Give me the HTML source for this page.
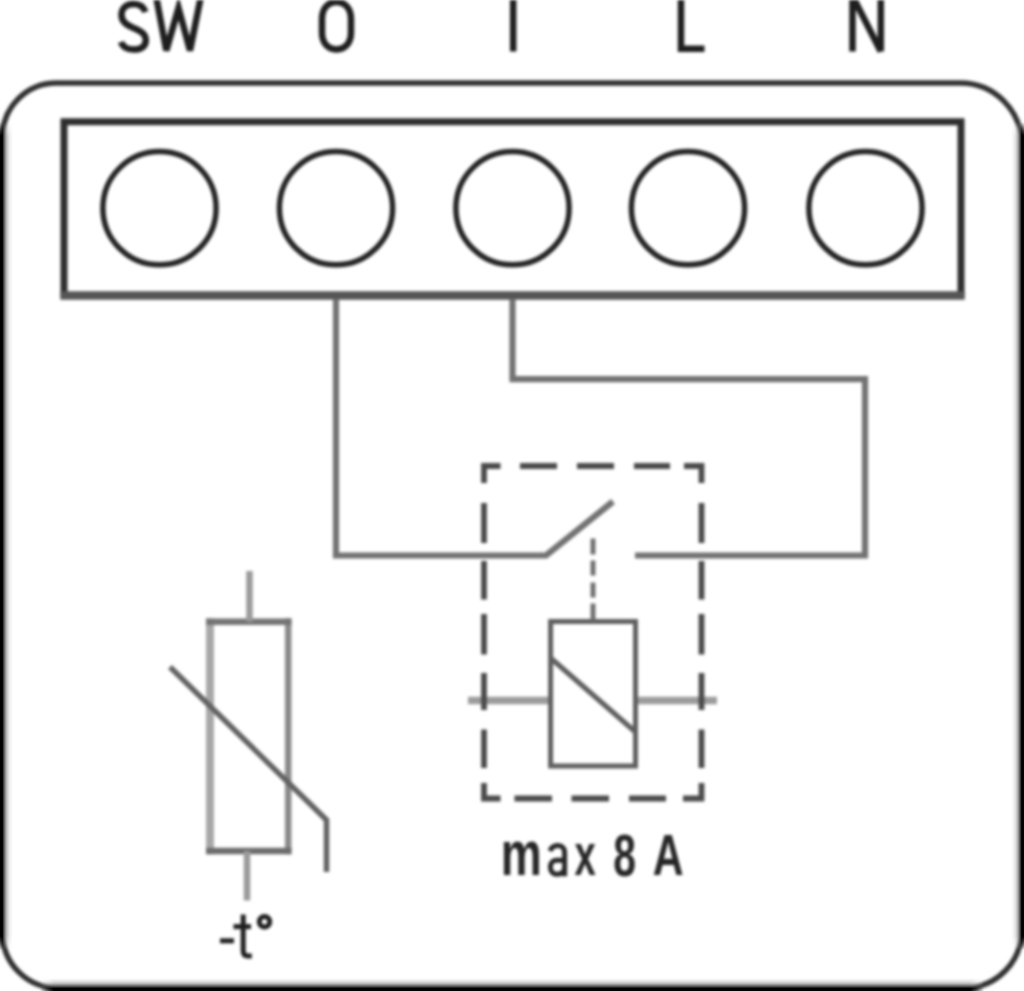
<!DOCTYPE html>
<html>
<head>
<meta charset="utf-8">
<style>
html,body{margin:0;padding:0;background:#fff;width:1024px;height:991px;overflow:hidden;}
#wrap{position:absolute;left:0;top:0;width:1024px;height:991px;filter:blur(1.5px);background:#fff;}
svg{display:block;position:absolute;left:0;top:0;}
.edge{position:absolute;}
</style>
</head>
<body>
<div id="wrap">
<svg width="1024" height="991" viewBox="0 0 1024 991">
<rect x="0" y="0" width="1024" height="991" fill="#fff"/>
<g fill="none" stroke-linecap="butt" stroke-linejoin="miter">
  <!-- outer rounded box -->
  <path d="M56.5,83 L960.5,83 A61,61 0 0 1 1021.5,144 L1021.5,931 A57,57 0 0 1 964.5,988 L57.5,988 A55,55 0 0 1 2.5,933 L2.5,137 A54,54 0 0 1 56.5,83 Z" stroke="#303030" stroke-width="5.5"/>
  <!-- terminal block -->
  <path d="M64,295.5 L64,121.7 L961,121.7 L961,295.5" stroke="#2e2e2e" stroke-width="7"/>
  <line x1="60.25" y1="295.5" x2="964.75" y2="295.5" stroke="#555" stroke-width="8.5"/>
  <g stroke="#242424" stroke-width="5.5">
    <circle cx="159.5" cy="208.2" r="56.6"/>
    <circle cx="336" cy="208.2" r="56.6"/>
    <circle cx="512.5" cy="208.2" r="56.6"/>
    <circle cx="688" cy="208.2" r="56.6"/>
    <circle cx="865.5" cy="208.2" r="56.6"/>
  </g>
  <!-- wires -->
  <g stroke="#727272" stroke-width="6.2">
    <polyline points="336,299 336,555.5 546,555.5 613,501.5"/>
    <polyline points="512.5,299 512.5,379.2 865,379.2 865,555.5 635,555.5"/>
  </g>

  <g stroke="#9c9c9c" stroke-width="7.5">
    <line x1="468" y1="700.5" x2="551" y2="700.5"/>
    <line x1="635.5" y1="700.5" x2="717" y2="700.5"/>
  </g>
  <!-- dashed box -->
  <g stroke="#4a4a4a" stroke-width="5.8">
    <polyline points="500.5,466 484,466 484,483"/>
    <line x1="520" y1="466" x2="557" y2="466"/>
    <line x1="577" y1="466" x2="614" y2="466"/>
    <line x1="634" y1="466" x2="670" y2="466"/>
    <polyline points="684,466 701.5,466 701.5,483"/>
    <polyline points="484,783 484,798.5 500.5,798.5"/>
    <line x1="514.5" y1="798.5" x2="552" y2="798.5"/>
    <line x1="571.5" y1="798.5" x2="609" y2="798.5"/>
    <line x1="629" y1="798.5" x2="666" y2="798.5"/>
    <polyline points="683,798.5 701.5,798.5 701.5,783"/>
    <line x1="484" y1="503" x2="484" y2="543"/>
    <line x1="484" y1="561" x2="484" y2="599.5"/>
    <line x1="484" y1="614" x2="484" y2="654.5"/>
    <line x1="484" y1="673" x2="484" y2="710"/>
    <line x1="484" y1="729.5" x2="484" y2="768"/>
    <line x1="701.5" y1="503" x2="701.5" y2="543"/>
    <line x1="701.5" y1="561" x2="701.5" y2="599.5"/>
    <line x1="701.5" y1="614" x2="701.5" y2="654.5"/>
    <line x1="701.5" y1="673" x2="701.5" y2="710"/>
    <line x1="701.5" y1="729.5" x2="701.5" y2="768"/>
  </g>
  <!-- relay coil -->
  <g stroke="#5e5e5e" stroke-width="5">
    <rect x="550.6" y="621.5" width="84.9" height="144.5"/>
    <line x1="550.6" y1="658" x2="635.5" y2="732"/>
  </g>
  <g stroke="#6c6c6c" stroke-width="4.8">
    <line x1="593" y1="538.5" x2="593" y2="554.5"/>
    <line x1="593" y1="560.5" x2="593" y2="575.5"/>
    <line x1="593" y1="582.5" x2="593" y2="597.5"/>
    <line x1="593" y1="603.5" x2="593" y2="621"/>
  </g>
  <!-- thermistor -->
  <g stroke-width="6.5">
    <line x1="288.2" y1="618.25" x2="288.2" y2="854.25" stroke="#8a8a8a"/>
    <line x1="210" y1="618.25" x2="210" y2="854.25" stroke="#a8a8a8" stroke-width="8"/>
    <line x1="206" y1="621.8" x2="291.45" y2="621.8" stroke="#747474"/>
    <line x1="206" y1="851" x2="291.45" y2="851" stroke="#6c6c6c"/>
    <line x1="249.5" y1="571" x2="249.5" y2="621.5" stroke="#9a9a9a"/>
    <line x1="247" y1="851" x2="247" y2="900.5" stroke="#9a9a9a"/>
  </g>
  <polyline points="170,667 326.5,820 326.5,872" stroke="#626262" stroke-width="5.5"/>

  <!-- top labels -->
  <g stroke="#1e1e1e" stroke-width="6.5" stroke-linecap="butt" stroke-linejoin="miter">
    <path d="M145.5,12 C143.5,6.5 139.5,4 133.5,4 C126,4 121.5,8.5 121.5,15 C121.5,22 127,25 133.5,28 C141,31 145.8,34 145.8,40.5 C145.8,46.5 141,49.5 133.5,49.5 C126.5,49.5 122.5,46.5 121,42"/>
    <polyline points="156,-4 166.3,50.5 178.5,8 190,50.5 201,-4"/>
    <path d="M336.5,2 C345.5,2 351,9 351,19 L351,32.5 C351,42.5 345.5,49.4 336.5,49.4 C327.5,49.4 322,42.5 322,32.5 L322,19 C322,9 327.5,2 336.5,2 Z"/>
    <line x1="513.2" y1="-4" x2="513.2" y2="51.5"/>
    <polyline points="681,-4 681,48.7 704.5,48.7"/>
    <path d="M852.5,51.5 L852.5,-4 M852.5,-4 L880.8,51.5 M880.8,51.5 L880.8,-4"/>
  </g>
</g>

  <!-- max 8 A -->
  <g fill="#262626" stroke="#262626" stroke-width="0" font-family="Liberation Sans" font-weight="bold" font-size="100">
    <text transform="translate(500.63,875.14) scale(0.4613,0.6255)">m</text>
    <text transform="translate(574.42,875.17) scale(0.3826,0.5987)">x</text>
    <text transform="translate(613.30,875.50) scale(0.4090,0.5955)">8</text>
    <text transform="translate(652.87,875.11) scale(0.4274,0.5673)">A</text>
  </g>

  <path d="M550,851 C551.5,847.2 554.5,845.6 557.8,845.6 C562.2,845.6 564.6,848.2 564.6,852.5 L564.6,876.3 M564.6,860.3 L556.5,860.3 C552.5,860.3 550.4,863.4 550.4,867.2 C550.4,871.6 553.2,874.3 557.2,874.3 C561,874.3 563.8,872.2 564.6,868.5" fill="none" stroke="#262626" stroke-width="5"/>
  <!-- -t° -->
  <g stroke="#1e1e1e" stroke-width="5" fill="none">
    <line x1="220" y1="940.8" x2="234" y2="940.8"/>
    <path d="M243.2,914.5 L243.2,951 C243.2,955 245.5,956 248,956 L251.8,956"/>
    <line x1="233.5" y1="926.6" x2="251" y2="926.6"/>
    <circle cx="264.5" cy="921.7" r="5.2" stroke-width="5"/>
  </g>
</svg>
</div>
<div class="edge" style="left:0;top:122px;width:14px;height:828px;-webkit-mask-image:linear-gradient(180deg,transparent 0,#000 14px,#000 814px,transparent 828px);mask-image:linear-gradient(180deg,transparent 0,#000 14px,#000 814px,transparent 828px);background:linear-gradient(90deg,#000 0,#000 2.4px,#3c3c3c 3.5px,#808080 5px,#b4b4b4 6.5px,#d7d7d7 8px,#f0f0f0 10px,#fff 13px,rgba(255,255,255,0) 14px);"></div>
<div class="edge" style="left:1010px;top:122px;width:14px;height:828px;-webkit-mask-image:linear-gradient(180deg,transparent 0,#000 14px,#000 814px,transparent 828px);mask-image:linear-gradient(180deg,transparent 0,#000 14px,#000 814px,transparent 828px);background:linear-gradient(270deg,#000 0,#000 2.4px,#3c3c3c 3.5px,#808080 5px,#b4b4b4 6.5px,#d7d7d7 8px,#f0f0f0 10px,#fff 13px,rgba(255,255,255,0) 14px);"></div>
<div class="edge" style="left:40px;top:977px;width:944px;height:14px;-webkit-mask-image:linear-gradient(90deg,transparent 0,#000 14px,#000 930px,transparent 944px);mask-image:linear-gradient(90deg,transparent 0,#000 14px,#000 930px,transparent 944px);background:linear-gradient(0deg,#000 0,#000 2.7px,#3c3c3c 4px,#808080 5.8px,#b4b4b4 7.3px,#d7d7d7 9px,#f0f0f0 11px,#fff 13px,rgba(255,255,255,0) 14px);"></div>
</body>
</html>
